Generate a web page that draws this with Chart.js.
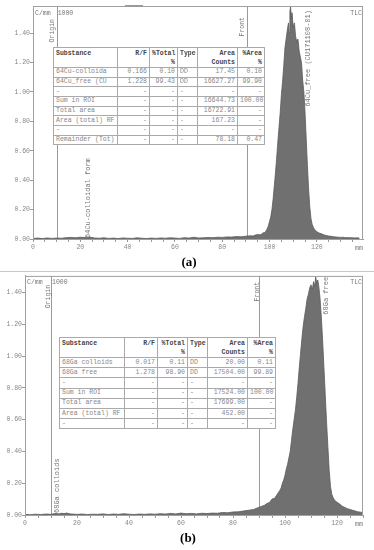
<!DOCTYPE html>
<html>
<head>
<meta charset="utf-8">
<script src="https://cdn.jsdelivr.net/npm/chart.js@4.4.1/dist/chart.umd.min.js"></script>
<style>
  html, body { margin: 0; padding: 0; background: #fff; }
  #page { position: relative; width: 374px; height: 550px; overflow: hidden; }
  canvas { position: absolute; left: 0; }
  #chartA { top: 0; }
  #chartB { top: 272px; }
  .sep { position: absolute; left: 0; top: 271px; width: 374px; border-top: 1px solid #c8c8c8; }
  .tab { position: absolute; left: 125px; top: 5px; width: 18px; height: 2px; background: #9a9a9a; }
  table.res { position: absolute; border-collapse: collapse; table-layout: fixed; background: #fff;
    font-family: 'Liberation Mono', monospace; font-size: 6.5px; color: #888; }
  table.res td { border: 1px solid #aaa; padding: 0 2px; white-space: nowrap; overflow: hidden; line-height: 8px; }
  table.res td.r { text-align: right; }
  table.res tr.hd td { vertical-align: top; font-weight: bold; color: #444; padding-top: 1px; line-height: 9px; }
  .cap { position: absolute; font-family: 'Liberation Serif', serif; font-weight: bold; font-size: 13px;
    color: #000; transform: translate(-50%, -50%); }
</style>
</head>
<body>
<div id="page">
  <canvas id="chartA" width="374" height="255"></canvas>
  <div class="tab"></div>
  <div class="sep"></div>
  <canvas id="chartB" width="374" height="258"></canvas>
  <div class="cap" style="left:189px; top:262px;">(a)</div>
  <div class="cap" style="left:188px; top:538px;">(b)</div>
</div>
<script>
// (a) 64Cu scan: distance (mm) and counts (C/mm * 1000)
const xA = [0, 2, 4, 6, 8, 10, 12, 14, 16, 18,
  20, 22, 24, 26, 28, 30, 32, 34, 36, 38,
  40, 42, 44, 46, 48, 50, 52, 54, 56, 58,
  60, 62, 64, 66, 68, 70, 72, 74, 76, 78,
  80, 82, 84, 86, 88, 90, 92, 93, 94, 95,
  96, 97, 97.5, 98, 98.5, 99, 99.5, 100, 100.5, 101,
  101.5, 102, 102.5, 103, 103.5, 104, 104.5, 105, 105.5, 106,
  106.5, 107, 107.5, 108, 108.3, 108.6, 108.9, 109.2, 109.5, 110,
  110.5, 111, 111.5, 112, 112.5, 113, 113.5, 114, 114.5, 115,
  115.5, 116, 116.5, 117, 117.5, 118, 118.5, 119, 120, 121,
  122, 123, 124, 125, 126, 127, 128, 129, 130, 131,
  132, 133, 134, 135, 136, 137, 138];
const yA = [0.004, 0.006, 0.003, 0.007, 0.004, 0.006, 0.005, 0.009, 0.011, 0.008,
  0.012, 0.010, 0.013, 0.007, 0.005, 0.008, 0.004, 0.006, 0.003, 0.007,
  0.005, 0.004, 0.008, 0.005, 0.003, 0.006, 0.004, 0.007, 0.005, 0.008,
  0.006, 0.004, 0.009, 0.006, 0.012, 0.007, 0.008, 0.010, 0.009, 0.012,
  0.011, 0.014, 0.013, 0.017, 0.015, 0.019, 0.022, 0.020, 0.027, 0.031,
  0.028, 0.038, 0.045, 0.042, 0.055, 0.07, 0.09, 0.12, 0.15, 0.2,
  0.27, 0.36, 0.45, 0.55, 0.66, 0.76, 0.86, 0.98, 1.07, 1.18,
  1.3, 1.36, 1.42, 1.47, 1.40, 1.55, 1.58, 1.50, 1.54, 1.44,
  1.47, 1.38, 1.34, 1.36, 1.28, 1.24, 1.20, 1.08, 1.0, 0.86,
  0.68, 0.5, 0.34, 0.22, 0.14, 0.1, 0.08, 0.065, 0.05, 0.04,
  0.035, 0.028, 0.024, 0.02, 0.018, 0.015, 0.014, 0.012, 0.011, 0.012,
  0.009, 0.01, 0.008, 0.009, 0.007, 0.008, 0.006];

// (b) 68Ga scan
const xB = [0, 2, 4, 6, 8, 10, 11, 12, 13, 14,
  15, 16, 17, 18, 20, 22, 24, 26, 28, 30,
  32, 34, 36, 38, 40, 42, 44, 46, 48, 50,
  52, 54, 56, 58, 60, 62, 64, 66, 68, 70,
  72, 74, 76, 78, 80, 82, 84, 86, 88, 89,
  90, 91, 92, 93, 94, 95, 96, 97, 98, 98.5,
  99, 99.5, 100, 100.5, 101, 101.5, 102, 102.5, 103, 103.5,
  104, 104.5, 105, 105.5, 106, 106.5, 107, 107.5, 108, 108.5,
  109, 109.5, 110, 110.5, 111, 111.5, 111.8, 112.2, 112.6, 113,
  113.5, 114, 114.5, 115, 115.5, 116, 116.5, 117, 117.5, 118,
  118.5, 119, 120, 121, 122, 123, 124, 125, 126, 127,
  128, 129, 130];
const yB = [0.004, 0.002, 0.005, 0.003, 0.006, 0.004, 0.008, 0.010, 0.007, 0.011,
  0.009, 0.012, 0.008, 0.006, 0.004, 0.006, 0.003, 0.005, 0.004, 0.007,
  0.003, 0.006, 0.004, 0.008, 0.005, 0.003, 0.006, 0.004, 0.007, 0.005,
  0.008, 0.006, 0.010, 0.007, 0.012, 0.008, 0.010, 0.007, 0.011, 0.009,
  0.012, 0.011, 0.016, 0.014, 0.019, 0.020, 0.025, 0.030, 0.035, 0.042,
  0.048, 0.055, 0.060, 0.072, 0.078, 0.100, 0.105, 0.130, 0.155, 0.170,
  0.200, 0.220, 0.250, 0.290, 0.320, 0.360, 0.400, 0.470, 0.540, 0.600,
  0.660, 0.740, 0.830, 0.930, 1.020, 1.110, 1.190, 1.250, 1.300, 1.360,
  1.390, 1.430, 1.450, 1.420, 1.470, 1.440, 1.500, 1.460, 1.480, 1.440,
  1.360, 1.240, 1.090, 0.920, 0.750, 0.580, 0.430, 0.280, 0.180, 0.130,
  0.110, 0.095, 0.080, 0.070, 0.055, 0.048, 0.040, 0.035, 0.030, 0.025,
  0.020, 0.018, 0.015];

// axis ticks
const yTicks = [0, 0.2, 0.4, 0.6, 0.8, 1.0, 1.2, 1.4];
const xMinorTicks = [0, 5, 10, 15, 20, 25, 30, 35, 40, 45, 50, 55, 60, 65,
  70, 75, 80, 85, 90, 95, 100, 105, 110, 115, 120, 125, 130, 135];
const xTickLabels = [0, 20, 40, 60, 80, 100, 120];

// result tables
const headTop = ['Substance', 'R/F', '%Total', 'Type', 'Area', '%Area'];
const headSub = ['', '', '%', '', 'Counts', '%'];
const colAlign = ['l', 'r', 'r', 'l', 'r', 'r'];
const rowsA = [
  ['64Cu-colloida', '0.166', '0.10', 'DD', '17.45', '0.10'],
  ['64Cu_free (CU', '1.228', '99.43', 'DD', '16627.27', '99.90'],
  ['-', '-', '-', '-', '-', '-'],
  ['Sum in ROI', '-', '-', '-', '16644.73', '100.00'],
  ['Total area', '-', '-', '-', '16722.91', '-'],
  ['Area (total) RF', '-', '-', '-', '167.23', '-'],
  ['-', '-', '-', '-', '-', '-'],
  ['Remainder (Tot)', '-', '-', '-', '78.18', '0.47']
];
const rowsB = [
  ['68Ga colloids', '0.017', '0.11', 'DD', '20.00', '0.11'],
  ['68Ga free', '1.278', '98.90', 'DD', '17504.00', '99.89'],
  ['-', '-', '-', '-', '-', '-'],
  ['Sum in ROI', '-', '-', '-', '17524.00', '100.00'],
  ['Total area', '-', '-', '-', '17699.00', '-'],
  ['Area (total) RF', '-', '-', '-', '452.00', '-'],
  ['-', '-', '-', '-', '-', '-']
];

const mono = '"Liberation Mono", monospace';

// origin/front lines, frame and the scanner's labels
const tlcMarks = {
  id: 'tlcMarks',
  beforeDatasetsDraw(chart, args, opts) {
    const { ctx, chartArea: a, scales: { x } } = chart;
    ctx.save();
    ctx.strokeStyle = '#9a9a9a';
    ctx.lineWidth = 1;
    [opts.origin, opts.front].forEach(v => {
      const px = Math.round(x.getPixelForValue(v)) + 0.5;
      ctx.beginPath();
      ctx.moveTo(px, a.top);
      ctx.lineTo(px, a.bottom);
      ctx.stroke();
    });
    ctx.restore();
  },
  afterDatasetsDraw(chart, args, opts) {
    const { ctx, chartArea: a, scales: { x } } = chart;
    ctx.save();
    ctx.strokeStyle = '#a0a0a0';
    ctx.lineWidth = 1;
    ctx.strokeRect(a.left + 0.5, a.top + 0.5, a.right - a.left - 1, a.bottom - a.top);

    ctx.fillStyle = '#777';
    ctx.font = '6.5px ' + mono;
    ctx.textBaseline = 'middle';
    ctx.textAlign = 'left';
    ctx.fillText('C/mm', a.left + 2, a.top + opts.unitDy);
    ctx.fillText('1000', x.getPixelForValue(opts.origin) + 1, a.top + opts.unitDy);
    ctx.textAlign = 'right';
    ctx.fillText('TLC', a.right - 1, a.top + opts.unitDy);
    ctx.textAlign = 'center';
    ctx.fillText('mm', a.right - 4, a.bottom + 9);

    opts.marks.forEach(m => {
      ctx.save();
      ctx.translate(x.getPixelForValue(m.at), m.top ? a.top + m.dy : a.bottom - m.dy);
      ctx.rotate(-Math.PI / 2);
      ctx.textAlign = m.top ? 'right' : 'left';
      ctx.textBaseline = 'middle';
      ctx.font = m.size + 'px ' + mono;
      ctx.fillText(m.text, 0, 0);
      ctx.restore();
    });
    ctx.restore();
  }
};

function makeChart(id, xs, ys, xMax, yMax, axisW, axisH, padTop, marks) {
  const ctx = document.getElementById(id).getContext('2d');
  const tickFont = { family: mono, size: 6.5 };
  return new Chart(ctx, {
    type: 'line',
    data: {
      datasets: [{
        data: xs.map((v, i) => ({ x: v, y: ys[i] })),
        borderColor: '#5a5a5a',
        borderWidth: 0.8,
        backgroundColor: '#707070',
        fill: 'origin',
        pointRadius: 0,
        tension: 0
      }]
    },
    options: {
      responsive: false,
      animation: false,
      devicePixelRatio: 1,
      layout: { padding: { left: 0, right: 11, top: padTop, bottom: 0 } },
      plugins: {
        legend: { display: false },
        tooltip: { enabled: false },
        tlcMarks: marks
      },
      scales: {
        x: {
          type: 'linear',
          min: 0,
          max: xMax,
          afterBuildTicks: s => { s.ticks = xMinorTicks.filter(v => v <= xMax).map(v => ({ value: v })); },
          afterFit: s => { s.height = axisH; },
          ticks: {
            autoSkip: false,
            maxRotation: 0,
            padding: 1,
            font: tickFont,
            color: '#888',
            callback: v => xTickLabels.includes(v) ? String(v) : ''
          },
          grid: { drawOnChartArea: false, tickLength: 3, color: '#999' },
          border: { color: '#999' }
        },
        y: {
          min: 0,
          max: yMax,
          afterBuildTicks: s => { s.ticks = yTicks.map(v => ({ value: v })); },
          afterFit: s => { s.width = axisW; },
          ticks: {
            padding: 0,
            font: tickFont,
            color: '#888',
            callback: v => v.toFixed(2)
          },
          grid: { drawOnChartArea: false, tickLength: 3, color: '#999' },
          border: { color: '#999' }
        }
      }
    },
    plugins: [tlcMarks]
  });
}

function makeTable(rows, left, top, widths, headH, rowH) {
  const t = document.createElement('table');
  t.className = 'res';
  t.style.left = left + 'px';
  t.style.top = top + 'px';
  t.style.width = widths.reduce((s, w) => s + w, 0) + 'px';
  const cg = document.createElement('colgroup');
  widths.forEach(w => {
    const c = document.createElement('col');
    c.style.width = w + 'px';
    cg.appendChild(c);
  });
  t.appendChild(cg);
  const hr = t.insertRow();
  hr.className = 'hd';
  hr.style.height = headH + 'px';
  headTop.forEach((h, i) => {
    const td = hr.insertCell();
    td.className = colAlign[i];
    td.innerHTML = h + '<br>' + (headSub[i] || '&nbsp;');
  });
  rows.forEach(r => {
    const tr = t.insertRow();
    tr.style.height = rowH + 'px';
    r.forEach((v, i) => {
      const td = tr.insertCell();
      td.className = colAlign[i];
      td.textContent = v;
    });
  });
  document.getElementById('page').appendChild(t);
}

makeChart('chartA', xA, yA, 139.5, 1.585, 33, 16, 6, {
  origin: 10, front: 90.5, unitDy: 7,
  marks: [
    { text: 'Origin', at: 8.2, top: true, dy: 13, size: 6.5 },
    { text: 'Front', at: 88.6, top: true, dy: 11, size: 6.5 },
    { text: '64Cu_free (CU171108-01)', at: 116.3, top: true, dy: 4, size: 7 },
    { text: '64Cu-colloidal form', at: 23.3, top: false, dy: 1, size: 7 }
  ]
});

makeChart('chartB', xB, yB, 130, 1.506, 25, 15, 2, {
  origin: 10, front: 90, unitDy: 6,
  marks: [
    { text: 'Origin', at: 8.8, top: true, dy: 9, size: 6.5 },
    { text: 'Front', at: 89.2, top: true, dy: 6, size: 6.5 },
    { text: '68Ga free', at: 115.8, top: true, dy: 1, size: 7 },
    { text: '68Ga colloids', at: 12.3, top: false, dy: 2, size: 7 }
  ]
});

makeTable(rowsA, 53, 47, [64, 32, 28, 20, 40, 27], 19.4, 9.67);
makeTable(rowsB, 59, 337, [65, 33, 30, 20, 40, 28], 19.3, 10.2);
</script>
</body>
</html>
